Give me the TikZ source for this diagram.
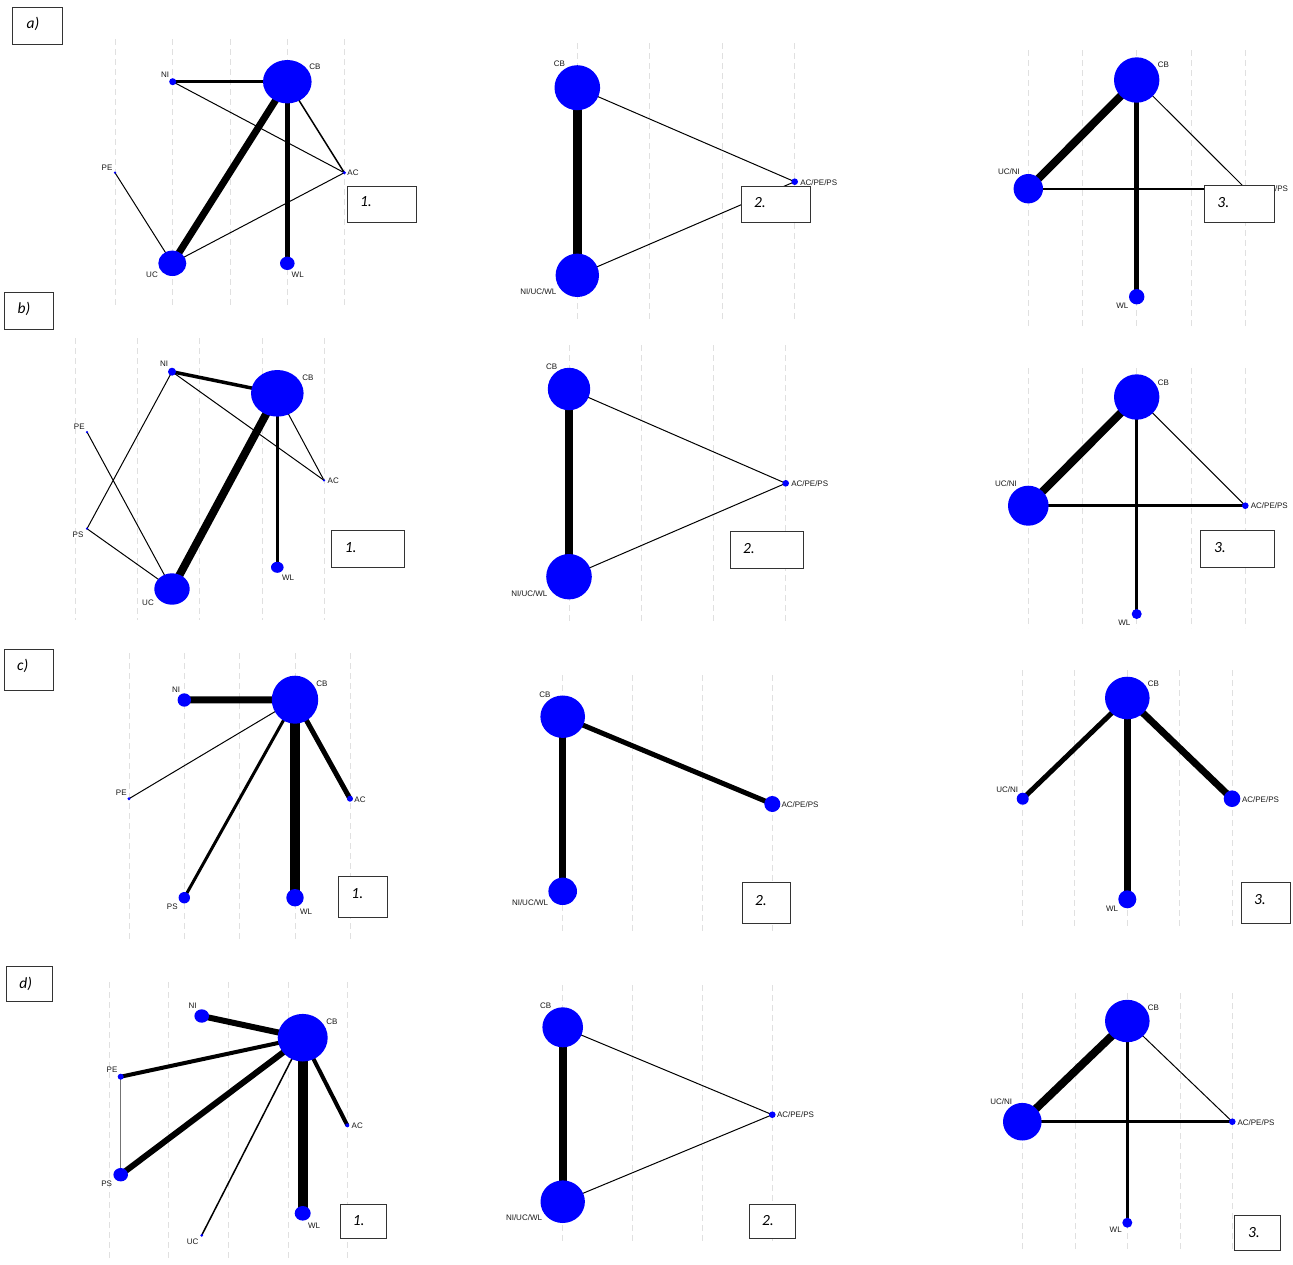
\documentclass[tikz,border=0pt]{standalone}
\usepackage{fontspec}
\setmainfont{Liberation Sans}
\newfontfamily\boxfont{Carlito}
\usetikzlibrary{shapes.geometric,backgrounds}
\tikzset{
  nd/.style={ellipse, fill=blue, draw=none, inner sep=0pt, outer sep=0pt},
  lab/.style={font=\fontsize{8}{9}\selectfont, text=black!90, inner sep=0pt},
  pbox/.style={draw=black!80, line width=0.9pt, fill=white, inner sep=0pt, anchor=north west},
  btxt/.style={font=\boxfont\itshape\fontsize{15.5}{17}\selectfont, text=black, inner sep=0pt},
  gridl/.style={draw=black!12, line width=0.8pt, dash pattern=on 6pt off 4pt},
}
\newcommand\netnode[5]{\node[nd, minimum width=#4pt, minimum height=#5pt] (#1) at (#2,#3) {};}
\newcommand\netedge[3]{\draw[line width=#3pt] (#1.center) -- (#2.center);}
\newcommand\netlab[4]{\node[lab] (#1) at (#2,#3) {#4};}
\newcommand\panelbox[5]{\node[pbox, minimum width=#4pt, minimum height=#5pt] (#1) at (#2,#3) {};}
\begin{document}
\begin{tikzpicture}[x=1pt,y=-1pt]
\useasboundingbox (0,0) rectangle (1293,1264);

% ---------- nodes ----------
% a1
\netnode{a1NI}{172.7}{81.7}{7}{7}
\netnode{a1CB}{287.3}{81.7}{48.6}{43.4}
\netnode{a1PE}{115}{172.7}{2.5}{2.5}
\netnode{a1AC}{344.3}{172.7}{3.5}{3.5}
\netnode{a1UC}{172.3}{263.3}{28}{25.4}
\netnode{a1WL}{287.3}{263.3}{14.6}{13.4}
% a2
\netnode{a2CB}{577.3}{87.7}{45.6}{45}
\netnode{a2NUW}{577.3}{275.3}{43.4}{43.4}
\netnode{a2ACP}{794.7}{181.7}{6.6}{6.6}
% a3
\netnode{a3CB}{1136.7}{80}{45.4}{45.4}
\netnode{a3UN}{1028.3}{188.7}{29.4}{29.4}
\netnode{a3WL}{1136.7}{296.7}{15.4}{15.4}
\netnode{a3ACP}{1245.7}{188.7}{6.6}{6.6}
% b1
\netnode{b1NI}{172}{371.7}{8}{8}
\netnode{b1CB}{277.3}{393.3}{52.6}{46.6}
\netnode{b1PE}{87}{432}{2.5}{2.5}
\netnode{b1AC}{324}{480.3}{2.5}{2.5}
\netnode{b1PS}{87}{528.7}{2.5}{2.5}
\netnode{b1UC}{172}{589}{35.4}{31.4}
\netnode{b1WL}{277.3}{567.3}{12.6}{11}
% b2
\netnode{b2CB}{569}{389}{42.4}{42.4}
\netnode{b2NUW}{569}{576.7}{45.6}{45.4}
\netnode{b2ACP}{785.7}{483.3}{6.6}{6.6}
% b3
\netnode{b3CB}{1136.7}{397}{45.4}{45.4}
\netnode{b3UN}{1028.3}{505.7}{40.6}{40}
\netnode{b3ACP}{1245.3}{505.7}{6.6}{6.6}
\netnode{b3WL}{1136.7}{614}{10}{10}
% c1
\netnode{c1NI}{184.3}{700}{13.4}{13.4}
\netnode{c1CB}{295}{699.7}{46.4}{48}
\netnode{c1PE}{129}{798.7}{3.4}{3.4}
\netnode{c1AC}{350}{798.7}{6}{6}
\netnode{c1PS}{184.3}{897.7}{11.4}{11.4}
\netnode{c1WL}{295}{897.7}{17.4}{17.4}
% c2
\netnode{c2CB}{562.7}{716.7}{44.6}{42.4}
\netnode{c2NUW}{562.7}{891.3}{28.6}{27.4}
\netnode{c2ACP}{772.3}{804}{16}{16}
% c3
\netnode{c3CB}{1127.3}{698}{44.6}{42.6}
\netnode{c3UN}{1022.7}{798.7}{12}{12}
\netnode{c3ACP}{1232}{798.7}{16.6}{16.6}
\netnode{c3WL}{1127.3}{899.3}{18}{18}
% d1
\netnode{d1NI}{201.7}{1016}{14.6}{13.4}
\netnode{d1CB}{302.7}{1037.7}{50}{47.6}
\netnode{d1PE}{120.7}{1076.7}{6}{6}
\netnode{d1PS}{120.7}{1174.7}{14.6}{13.4}
\netnode{d1UC}{201.7}{1235.3}{3}{3}
\netnode{d1WL}{302.7}{1213.3}{16}{14.6}
\netnode{d1AC}{347.3}{1125.3}{4}{4}
% d2
\netnode{d2CB}{562.7}{1027.3}{40.6}{40}
\netnode{d2NUW}{562.7}{1201.7}{44.4}{42.6}
\netnode{d2ACP}{772.3}{1114.7}{6.6}{6.6}
% d3
\netnode{d3CB}{1127.3}{1021}{44.6}{42.4}
\netnode{d3UN}{1022.3}{1121.7}{38.6}{37.6}
\netnode{d3ACP}{1232.3}{1121.7}{6.6}{6.6}
\netnode{d3WL}{1127.3}{1222.7}{10}{10}

% ---------- grid and edges (behind nodes) ----------
\begin{pgfonlayer}{background}
\fill[white] (0,0) rectangle (1293,1264);
\foreach \x in {115.7,172.7,230,287.3,344.3} \draw[gridl] (\x,39) -- (\x,305);
\foreach \x in {577.3,649.3,722.3,794.7} \draw[gridl] (\x,43) -- (\x,320);
\foreach \x in {1028.3,1082.7,1136.7,1191,1245.7} \draw[gridl] (\x,50) -- (\x,327);
\foreach \x in {75,137.3,199.7,262.3,324.3} \draw[gridl] (\x,338) -- (\x,620);
\foreach \x in {569,641.3,713.7,785.7} \draw[gridl] (\x,345) -- (\x,622);
\foreach \x in {1028.3,1082.7,1136.7,1191,1245.7} \draw[gridl] (\x,368) -- (\x,628);
\foreach \x in {129,184.3,239.7,295,350} \draw[gridl] (\x,653) -- (\x,940);
\foreach \x in {562.7,632.7,702.7,772.3} \draw[gridl] (\x,675) -- (\x,932);
\foreach \x in {1022.3,1074.7,1127.3,1179.7,1232.3} \draw[gridl] (\x,670) -- (\x,927);
\foreach \x in {109.3,168.7,228.3,288,347.7} \draw[gridl] (\x,982) -- (\x,1260);
\foreach \x in {562.7,632.7,702.7,772.3} \draw[gridl] (\x,985) -- (\x,1243);
\foreach \x in {1022.3,1075,1127.3,1180,1232.3} \draw[gridl] (\x,993) -- (\x,1250);

% a1
\netedge{a1NI}{a1CB}{2.5}
\netedge{a1NI}{a1AC}{1}
\netedge{a1CB}{a1AC}{1.5}
\netedge{a1CB}{a1UC}{7}
\netedge{a1CB}{a1WL}{5}
\netedge{a1PE}{a1UC}{1}
\netedge{a1UC}{a1AC}{1}
% a2
\netedge{a2CB}{a2NUW}{9}
\netedge{a2CB}{a2ACP}{1}
\netedge{a2NUW}{a2ACP}{1}
% a3
\netedge{a3CB}{a3UN}{8}
\netedge{a3CB}{a3WL}{5}
\netedge{a3CB}{a3ACP}{1}
\netedge{a3UN}{a3ACP}{2}
% b1
\netedge{b1NI}{b1CB}{3.5}
\netedge{b1NI}{b1AC}{1}
\netedge{b1NI}{b1PS}{1}
\netedge{b1PE}{b1UC}{1}
\netedge{b1PS}{b1UC}{1}
\netedge{b1CB}{b1UC}{8}
\netedge{b1CB}{b1WL}{3}
\netedge{b1CB}{b1AC}{1}
% b2
\netedge{b2CB}{b2NUW}{8.5}
\netedge{b2CB}{b2ACP}{1}
\netedge{b2NUW}{b2ACP}{1}
% b3
\netedge{b3CB}{b3UN}{8}
\netedge{b3CB}{b3WL}{2.5}
\netedge{b3UN}{b3ACP}{2.5}
\netedge{b3CB}{b3ACP}{1}
% c1
\netedge{c1NI}{c1CB}{7}
\netedge{c1CB}{c1PE}{1}
\netedge{c1CB}{c1PS}{3}
\netedge{c1CB}{c1WL}{10}
\netedge{c1CB}{c1AC}{5}
% c2
\netedge{c2CB}{c2NUW}{7.5}
\netedge{c2CB}{c2ACP}{5}
% c3
\netedge{c3CB}{c3UN}{5}
\netedge{c3CB}{c3WL}{7.5}
\netedge{c3CB}{c3ACP}{7}
% d1
\netedge{d1NI}{d1CB}{6}
\netedge{d1PE}{d1CB}{4}
\netedge{d1PS}{d1CB}{6}
\netedge{d1UC}{d1CB}{1.5}
\netedge{d1WL}{d1CB}{10}
\netedge{d1AC}{d1CB}{4}
\draw[line width=1.2pt, draw=black!55] (d1PE.center) -- (d1PS.center);
% d2
\netedge{d2CB}{d2NUW}{8}
\netedge{d2CB}{d2ACP}{1}
\netedge{d2NUW}{d2ACP}{1}
% d3
\netedge{d3CB}{d3UN}{8}
\netedge{d3CB}{d3WL}{3}
\netedge{d3UN}{d3ACP}{3}
\netedge{d3CB}{d3ACP}{1}
\end{pgfonlayer}

% ---------- labels ----------
\netlab{a1NIl}{165}{75}{NI}
\netlab{a1CBl}{315}{67}{CB}
\netlab{a1PEl}{107}{168}{PE}
\netlab{a1ACl}{353}{172.7}{AC}
\netlab{a1UCl}{152}{274.7}{UC}
\netlab{a1WLl}{297.7}{274.7}{WL}
\netlab{a2CBl}{559.3}{63.7}{CB}
\netlab{a2NUWl}{538.3}{291.7}{NI/UC/WL}
\netlab{a2ACPl}{818.7}{182.3}{AC/PE/PS}
\netlab{a3CBl}{1163.3}{65}{CB}
\netlab{a3UNl}{1009}{171.7}{UC/NI}
\netlab{a3WLl}{1122.3}{306}{WL}
\netlab{a3ACPl}{1269.5}{189}{AC/PE/PS}
\netlab{b1NIl}{164}{364}{NI}
\netlab{b1CBl}{308}{378}{CB}
\netlab{b1PEl}{79.3}{427}{PE}
\netlab{b1ACl}{333.3}{480.7}{AC}
\netlab{b1PSl}{78}{534.7}{PS}
\netlab{b1UCl}{148}{602.3}{UC}
\netlab{b1WLl}{288}{578}{WL}
\netlab{b2CBl}{551.7}{366.3}{CB}
\netlab{b2NUWl}{529.3}{594}{NI/UC/WL}
\netlab{b2ACPl}{809.7}{484}{AC/PE/PS}
\netlab{b3CBl}{1163.3}{382.3}{CB}
\netlab{b3UNl}{1006}{484}{UC/NI}
\netlab{b3ACPl}{1269.3}{506}{AC/PE/PS}
\netlab{b3WLl}{1124.3}{622.3}{WL}
\netlab{c1NIl}{176}{689.3}{NI}
\netlab{c1CBl}{322}{684}{CB}
\netlab{c1PEl}{121.3}{793}{PE}
\netlab{c1ACl}{360}{799.3}{AC}
\netlab{c1PSl}{172.3}{906.7}{PS}
\netlab{c1WLl}{306}{912}{WL}
\netlab{c2CBl}{545}{694.3}{CB}
\netlab{c2NUWl}{530}{902.7}{NI/UC/WL}
\netlab{c2ACPl}{800}{805}{AC/PE/PS}
\netlab{c3CBl}{1153.3}{684}{CB}
\netlab{c3UNl}{1007.3}{790}{UC/NI}
\netlab{c3ACPl}{1260.5}{799.3}{AC/PE/PS}
\netlab{c3WLl}{1112}{908.7}{WL}
\netlab{d1NIl}{192.7}{1005.7}{NI}
\netlab{d1CBl}{332}{1022}{CB}
\netlab{d1PEl}{112}{1070}{PE}
\netlab{d1PSl}{106.7}{1183.3}{PS}
\netlab{d1UCl}{192.7}{1241.7}{UC}
\netlab{d1WLl}{314}{1226}{WL}
\netlab{d1ACl}{357.3}{1126}{AC}
\netlab{d2CBl}{545.7}{1006}{CB}
\netlab{d2NUWl}{524}{1217.3}{NI/UC/WL}
\netlab{d2ACPl}{795.5}{1115}{AC/PE/PS}
\netlab{d3CBl}{1153.3}{1007.3}{CB}
\netlab{d3UNl}{1001.3}{1102}{UC/NI}
\netlab{d3ACPl}{1256}{1122.3}{AC/PE/PS}
\netlab{d3WLl}{1115.7}{1230}{WL}

% ---------- panel boxes ----------
\panelbox{ba}{12}{7}{50}{37}
\node[btxt] (tba) at (33,24) {a)};
\panelbox{bb}{4}{292.3}{48.7}{36.7}
\node[btxt] (tbb) at (24,309.3) {b)};
\panelbox{bc}{4}{649}{49.3}{41}
\node[btxt] (tbc) at (22.7,665.7) {c)};
\panelbox{bd}{6}{966}{46}{35}
\node[btxt] (tbd) at (25.7,984) {d)};

\panelbox{ba1}{346.7}{185.7}{69.3}{36.3}
\node[btxt] (tba1) at (366,202) {1.};
\panelbox{ba2}{741}{185.7}{69.3}{36.6}
\node[btxt] (tba2) at (760,202.3) {2.};
\panelbox{ba3}{1204.3}{185.3}{70}{37}
\node[btxt] (tba3) at (1223.3,202.3) {3.};

\panelbox{bb1}{331}{529.7}{73.3}{37}
\node[btxt] (tbb1) at (350.7,547.3) {1.};
\panelbox{bb2}{729.7}{531.3}{73}{37}
\node[btxt] (tbb2) at (749,548.3) {2.};
\panelbox{bb3}{1200.3}{529.7}{73.7}{37.3}
\node[btxt] (tbb3) at (1220,547.7) {3.};

\panelbox{bc1}{338.3}{876.3}{49}{40.7}
\node[btxt] (tbc1) at (357.3,894) {1.};
\panelbox{bc2}{741.7}{882.3}{48.6}{41}
\node[btxt] (tbc2) at (761,900.7) {2.};
\panelbox{bc3}{1240.7}{882.3}{49}{41}
\node[btxt] (tbc3) at (1260,899.3) {3.};

\panelbox{bd1}{339.7}{1203.7}{46}{34.6}
\node[btxt] (tbd1) at (358.7,1220.7) {1.};
\panelbox{bd2}{749}{1203.7}{45.7}{34.6}
\node[btxt] (tbd2) at (768,1220.7) {2.};
\panelbox{bd3}{1234.3}{1215.3}{46}{34.7}
\node[btxt] (tbd3) at (1254,1232.7) {3.};
\end{tikzpicture}
\end{document}
